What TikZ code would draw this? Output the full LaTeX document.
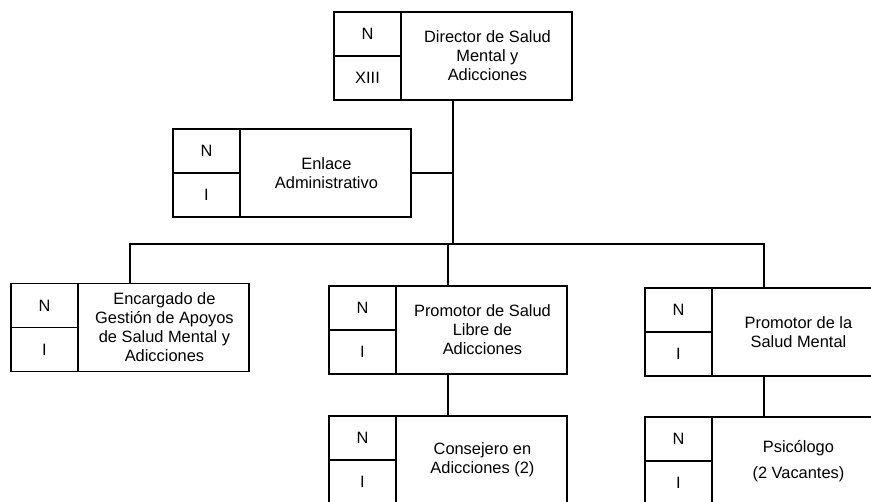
\documentclass[tikz,border=0pt]{standalone}
\usepackage{fontspec}
\setmainfont{Liberation Sans}
\usetikzlibrary{calc}
\newcommand\obox[4]{%
  \node[box] (#1) at (#2) {};
  \node[cell, anchor=north west] (#1-n) at (#1.north west) {N};
  \node[cell, anchor=south west] (#1-l) at (#1.south west) {#3};
  \node[lbl] (#1-t) at ($(#1-n.north east)!0.5!(#1.south east)$) {#4};
}
\begin{document}
\begin{tikzpicture}[x=0.75pt,y=-0.75pt,line width=1.4pt,
  box/.style={draw, minimum width=178.5pt, minimum height=66pt, inner sep=0pt},
  cell/.style={draw, minimum width=50.25pt, minimum height=33pt, inner sep=0pt,
    font=\fontsize{12.3}{14}\selectfont},
  lbl/.style={align=center, inner sep=0pt, font=\fontsize{12.3}{14.3}\selectfont},
  link/.style={draw, line width=1.4pt}]
\useasboundingbox (0,0) rectangle (871,501);
\clip (0,0) rectangle (871,501);
\obox{dir}{453,56}{XIII}{Director de Salud\\Mental y\\Adicciones}
\obox{enl}{292,173}{I}{Enlace\\Administrativo}
\obox{enc}{130,327.5}{I}{Encargado de\\Gesti\'on de Apoyos\\de Salud Mental y\\Adicciones}
\obox{lib}{448,330}{I}{Promotor de Salud\\Libre de\\Adicciones}
\obox{men}{764,332}{I}{Promotor de la\\Salud Mental}
\obox{con}{448,460}{I}{Consejero en\\Adicciones (2)}
\obox{psi}{764,461}{I}{Psic\'ologo\\[5pt](2 Vacantes)}
\coordinate (bar) at (452,244);
\draw[link] (dir.south) -- (dir.south |- bar);
\draw[link] (enc.north) -- (enc.north |- bar) -- (men.north |- bar) -- (men.north);
\draw[link] (lib.north) -- (lib.north |- bar);
\draw[link] (enl.east) -- (enl.east -| dir.south);
\draw[link] (lib.south) -- (con.north);
\draw[link] (men.south) -- (psi.north);
\end{tikzpicture}
\end{document}
